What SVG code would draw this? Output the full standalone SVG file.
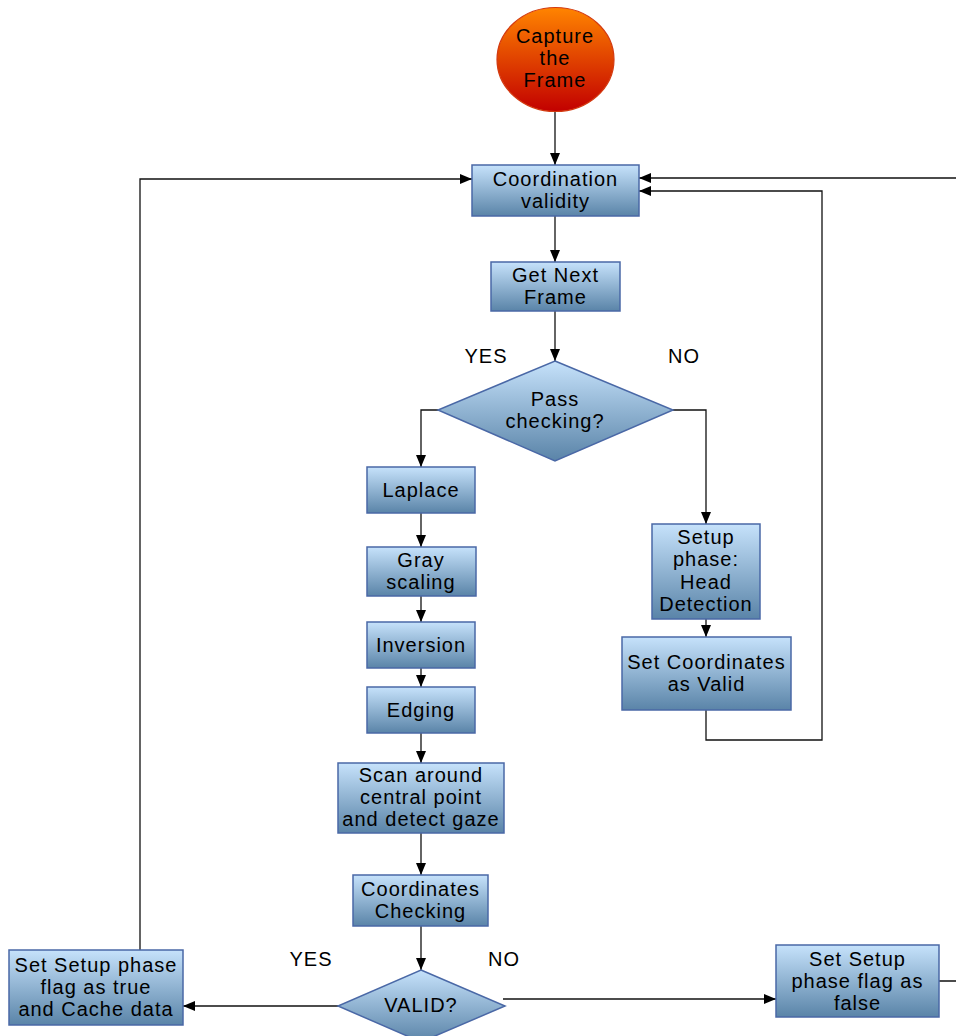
<svg xmlns="http://www.w3.org/2000/svg" width="956" height="1036" viewBox="0 0 956 1036">
<defs>
<linearGradient id="gBlue" x1="0" y1="0" x2="0" y2="1">
<stop offset="0" stop-color="#c6e2fb"/>
<stop offset="1" stop-color="#5a84a8"/>
</linearGradient>
<linearGradient id="gRed" x1="0" y1="0" x2="0" y2="1">
<stop offset="0" stop-color="#ff8400"/>
<stop offset="1" stop-color="#c20000"/>
</linearGradient>
<marker id="arr" viewBox="0 0 12 10" refX="12" refY="5" markerWidth="12" markerHeight="10" markerUnits="userSpaceOnUse" orient="auto">
<path d="M0,0 L12,5 L0,10 Z" fill="#000"/>
</marker>
</defs>
<style>
.box{fill:url(#gBlue);stroke:#4a68a6;stroke-width:1.5}
.t{font-family:"Liberation Sans",Arial,sans-serif;font-size:20px;letter-spacing:1px;fill:#000;text-anchor:middle}
.c{fill:none;stroke:#111;stroke-width:1.3}
.ca{fill:none;stroke:#111;stroke-width:1.3;marker-end:url(#arr)}
</style>
<rect width="956" height="1036" fill="#fff"/>
<g id="connectors">
<path class="ca" d="M555 111 V165"/>
<path class="ca" d="M555 216 V262"/>
<path class="ca" d="M555 311 V361"/>
<path class="ca" d="M438 410 H421 V467"/>
<path class="ca" d="M673 410 H706 V524"/>
<path class="ca" d="M421 513 V547"/>
<path class="ca" d="M421 596 V622"/>
<path class="ca" d="M421 668 V687"/>
<path class="ca" d="M421 733 V763"/>
<path class="ca" d="M421 833 V875"/>
<path class="ca" d="M421 926 V970"/>
<path class="ca" d="M338 1006 H183"/>
<path class="ca" d="M140 950 V179 H472"/>
<path class="ca" d="M503 999 H776"/>
<path class="ca" d="M939 981 H975 V178 H639"/>
<path class="ca" d="M706 619 V637"/>
<path class="ca" d="M706 710 V740 H822 V191 H639"/>
</g>
<g id="labels">
<text class="t" x="486" y="363">YES</text>
<text class="t" x="684" y="363">NO</text>
<text class="t" x="311" y="966">YES</text>
<text class="t" x="504" y="966">NO</text>
</g>
<g id="capture">
<ellipse cx="555.5" cy="59.5" rx="58.5" ry="52" fill="url(#gRed)" stroke="#d33a10" stroke-width="1.2"/>
<text class="t" x="555" y="43">Capture</text>
<text class="t" x="555" y="65">the</text>
<text class="t" x="555" y="87">Frame</text>
</g>
<g id="coordValidity">
<rect class="box" x="472" y="165" width="167" height="51"/>
<text class="t" x="555.5" y="186">Coordination</text>
<text class="t" x="555.5" y="208">validity</text>
</g>
<g id="getNext">
<rect class="box" x="491" y="262" width="129" height="49"/>
<text class="t" x="555.5" y="282">Get Next</text>
<text class="t" x="555.5" y="304">Frame</text>
</g>
<g id="passChecking">
<polygon class="box" points="555,361 673,410 555,461 438,410"/>
<text class="t" x="555" y="406">Pass</text>
<text class="t" x="555" y="428">checking?</text>
</g>
<g id="laplace">
<rect class="box" x="367" y="467" width="108" height="46"/>
<text class="t" x="421" y="497">Laplace</text>
</g>
<g id="gray">
<rect class="box" x="367" y="547" width="109" height="49"/>
<text class="t" x="421" y="567">Gray</text>
<text class="t" x="421" y="589">scaling</text>
</g>
<g id="inversion">
<rect class="box" x="367" y="622" width="108" height="46"/>
<text class="t" x="421" y="652">Inversion</text>
</g>
<g id="edging">
<rect class="box" x="367" y="687" width="108" height="46"/>
<text class="t" x="421" y="717">Edging</text>
</g>
<g id="scan">
<rect class="box" x="338" y="763" width="166" height="70"/>
<text class="t" x="421" y="782">Scan around</text>
<text class="t" x="421" y="804">central point</text>
<text class="t" x="421" y="826">and detect gaze</text>
</g>
<g id="coordChecking">
<rect class="box" x="353" y="875" width="135" height="51"/>
<text class="t" x="420.5" y="896">Coordinates</text>
<text class="t" x="420.5" y="918">Checking</text>
</g>
<g id="valid">
<polygon class="box" points="421,970 505,1006 421,1042 338,1006"/>
<text class="t" x="421" y="1012">VALID?</text>
</g>
<g id="setTrue">
<rect class="box" x="9" y="950" width="174" height="75"/>
<text class="t" x="96" y="972">Set Setup phase</text>
<text class="t" x="96" y="994">flag as true</text>
<text class="t" x="96" y="1016">and Cache data</text>
</g>
<g id="setFalse">
<rect class="box" x="776" y="945" width="163" height="72"/>
<text class="t" x="857.5" y="966">Set Setup</text>
<text class="t" x="857.5" y="988">phase flag as</text>
<text class="t" x="857.5" y="1010">false</text>
</g>
<g id="setupPhase">
<rect class="box" x="652" y="524" width="108" height="95"/>
<text class="t" x="706" y="544">Setup</text>
<text class="t" x="706" y="566">phase:</text>
<text class="t" x="706" y="589">Head</text>
<text class="t" x="706" y="611">Detection</text>
</g>
<g id="setValid">
<rect class="box" x="622" y="637" width="169" height="73"/>
<text class="t" x="706.5" y="669">Set Coordinates</text>
<text class="t" x="706.5" y="691">as Valid</text>
</g>
</svg>
